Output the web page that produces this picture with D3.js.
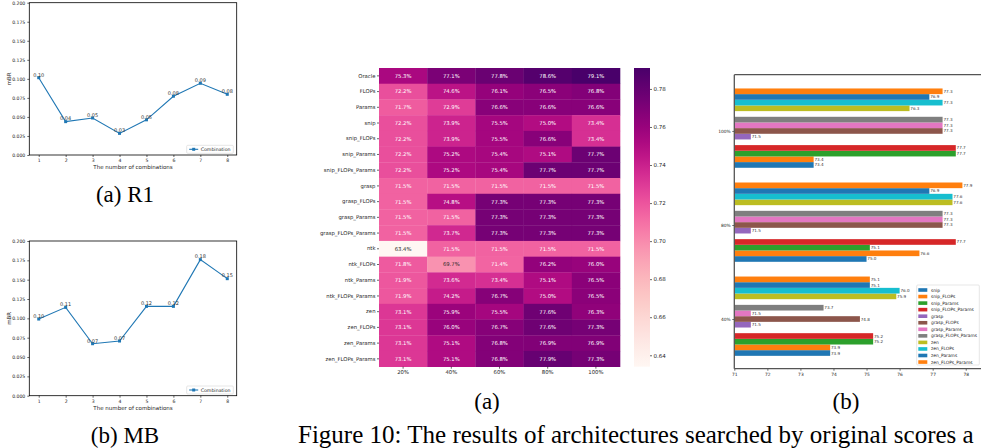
<!DOCTYPE html>
<html>
<head>
<meta charset="utf-8">
<script src="https://cdn.jsdelivr.net/npm/d3@7"></script>
<style>
  html, body { margin: 0; padding: 0; background: #fff; }
  svg { display: block; }
  .mpl { font-family: "DejaVu Sans", sans-serif; }
  .cap { font-family: "Liberation Serif", "Times New Roman", serif; fill: #000; }
</style>
</head>
<body>
<svg id="fig" width="981" height="448"></svg>
<script>
// ---------------- data ----------------
// mBR vs number of combined proxies
const comboX = [1, 2, 3, 4, 5, 6, 7, 8];
const mbrR1 = [0.1015, 0.0438, 0.0486, 0.0284, 0.0462, 0.0772, 0.0942, 0.0797];
const mbrMB = [0.0991, 0.1142, 0.0672, 0.0707, 0.1155, 0.1155, 0.1759, 0.1513];
const mbrTicks = [0, 0.025, 0.05, 0.075, 0.1, 0.125, 0.15, 0.175, 0.2];

// accuracy (%) of searched architectures per proxy and pruning ratio
const heatCols = ["20%", "40%", "60%", "80%", "100%"];
const heatRows = ["Oracle", "FLOPs", "Params", "snip", "snip_FLOPs", "snip_Params",
  "snip_FLOPs_Params", "grasp", "grasp_FLOPs", "grasp_Params", "grasp_FLOPs_Params",
  "ntk", "ntk_FLOPs", "ntk_Params", "ntk_FLOPs_Params", "zen", "zen_FLOPs",
  "zen_Params", "zen_FLOPs_Params"];
const accOracle           = [75.3, 77.1, 77.8, 78.6, 79.1];
const accFLOPs            = [72.2, 74.6, 76.1, 76.5, 76.8];
const accParams           = [71.7, 72.9, 76.6, 76.6, 76.6];
const accSnip             = [72.2, 73.9, 75.5, 75.0, 73.4];
const accSnipFLOPs        = [72.2, 73.9, 75.5, 76.6, 73.4];
const accSnipParams       = [72.2, 75.2, 75.4, 75.1, 77.7];
const accSnipFLOPsParams  = [72.2, 75.2, 75.4, 77.7, 77.7];
const accGrasp            = [71.5, 71.5, 71.5, 71.5, 71.5];
const accGraspFLOPs       = [71.5, 74.8, 77.3, 77.3, 77.3];
const accGraspParams      = [71.5, 71.5, 77.3, 77.3, 77.3];
const accGraspFLOPsParams = [71.5, 73.7, 77.3, 77.3, 77.3];
const accNtk              = [63.4, 71.5, 71.5, 71.5, 71.5];
const accNtkFLOPs         = [71.8, 69.7, 71.4, 76.2, 76.0];
const accNtkParams        = [71.9, 73.6, 73.4, 75.1, 76.5];
const accNtkFLOPsParams   = [71.9, 74.2, 76.7, 75.0, 76.5];
const accZen              = [73.1, 75.9, 75.5, 77.6, 76.3];
const accZenFLOPs         = [73.1, 76.0, 76.7, 77.6, 77.3];
const accZenParams        = [73.1, 75.1, 76.8, 76.9, 76.9];
const accZenFLOPsParams   = [73.1, 75.1, 76.8, 77.9, 77.3];
const heatValues = [accOracle, accFLOPs, accParams, accSnip, accSnipFLOPs, accSnipParams,
  accSnipFLOPsParams, accGrasp, accGraspFLOPs, accGraspParams, accGraspFLOPsParams,
  accNtk, accNtkFLOPs, accNtkParams, accNtkFLOPsParams, accZen, accZenFLOPs,
  accZenParams, accZenFLOPsParams];
const colorbarTicks = [0.64, 0.66, 0.68, 0.70, 0.72, 0.74, 0.76, 0.78];

// grouped bars: proxies at three ratios (bottom group first)
const barGroups = ["40%", "80%", "100%"];
const barSeries = ["snip", "snip_FLOPs", "snip_Params", "snip_FLOPs_Params",
  "grasp", "grasp_FLOPs", "grasp_Params", "grasp_FLOPs_Params",
  "zen", "zen_FLOPs", "zen_Params", "zen_FLOPs_Params"];
const barColors = ["#1f77b4", "#ff7f0e", "#2ca02c", "#d62728", "#9467bd", "#8c564b",
  "#e377c2", "#7f7f7f", "#bcbd22", "#17becf", "#1f77b4", "#ff7f0e"];
const barTicks = [71, 72, 73, 74, 75, 76, 77, 78];

// ---------------- helpers ----------------
const svg = d3.select("#fig");
const TXT = "#262626";

function styleAxis(g, size) {
  g.selectAll("path.domain").remove();
  g.selectAll(".tick line").attr("stroke", "#000").attr("stroke-width", 0.6);
  g.selectAll(".tick text").attr("class", "mpl").style("font-size", size + "px").attr("fill", TXT);
}

// ---------------- line charts ----------------
function lineChart(values, top, bottom, xLabel) {
  const left = 29.3, right = 236.7;
  const x = d3.scaleLinear().domain([0.65, 8.35]).range([left, right]);
  const y = d3.scaleLinear().domain([0, 0.2]).range([bottom, top]);
  const g = svg.append("g");

  g.append("g").attr("transform", `translate(0,${bottom})`)
    .call(d3.axisBottom(x).tickValues(comboX).tickFormat(d3.format("d")).tickSize(2).tickPadding(2))
    .call(a => styleAxis(a, 4.6));
  g.append("g").attr("transform", `translate(${left},0)`)
    .call(d3.axisLeft(y).tickValues(mbrTicks).tickFormat(d3.format(".3f")).tickSize(2).tickPadding(2))
    .call(a => styleAxis(a, 4.6));

  g.append("rect").attr("x", left).attr("y", top).attr("width", right - left).attr("height", bottom - top)
    .attr("fill", "none").attr("stroke", "#000").attr("stroke-width", 0.8);

  const line = d3.line().x((d, i) => x(comboX[i])).y(d => y(d));
  g.append("path").datum(values).attr("d", line)
    .attr("fill", "none").attr("stroke", "#1f77b4").attr("stroke-width", 1.1);
  const sym = d3.symbol().type(d3.symbolSquare).size(9);
  g.selectAll("path.mk").data(values).join("path").attr("class", "mk")
    .attr("d", sym).attr("transform", (d, i) => `translate(${x(comboX[i])},${y(d)})`)
    .attr("fill", "#1f77b4");
  g.selectAll("text.vl").data(values).join("text").attr("class", "mpl vl")
    .attr("x", (d, i) => x(comboX[i])).attr("y", d => y(d) - 1.2)
    .attr("text-anchor", "middle").style("font-size", "5px").attr("fill", "#333")
    .text(d => d3.format(".2f")(d));

  g.append("text").attr("class", "mpl").attr("x", (left + right) / 2).attr("y", bottom + 14)
    .attr("text-anchor", "middle").style("font-size", "5.5px").attr("fill", TXT).text(xLabel);
  g.append("text").attr("class", "mpl")
    .attr("transform", `translate(10.5,${(top + bottom) / 2}) rotate(-90)`)
    .attr("text-anchor", "middle").style("font-size", "5.5px").attr("fill", TXT).text("mBR");

  // legend
  const lx = 186.7, ly = bottom - 9.7;
  g.append("rect").attr("x", lx).attr("y", ly).attr("width", 46.6).attr("height", 8)
    .attr("rx", 1).attr("fill", "#fff").attr("stroke", "#ccc").attr("stroke-width", 0.5);
  g.append("line").attr("x1", lx + 2.5).attr("x2", lx + 11.5).attr("y1", ly + 4).attr("y2", ly + 4)
    .attr("stroke", "#1f77b4").attr("stroke-width", 1.1);
  g.append("path").attr("d", sym).attr("transform", `translate(${lx + 7},${ly + 4})`).attr("fill", "#1f77b4");
  g.append("text").attr("class", "mpl").attr("x", lx + 14).attr("y", ly + 5.7)
    .style("font-size", "4.7px").attr("fill", TXT).text("Combination");
}

lineChart(mbrR1, 2.7, 155, "The number of combinations");
lineChart(mbrMB, 241, 395.7, "The number of combinations");

// ---------------- heatmap ----------------
(function heatmap() {
  const left = 379, right = 620, top = 68, bottom = 366.7;
  const x = d3.scaleBand().domain(heatCols).range([left, right]);
  const y = d3.scaleBand().domain(heatRows).range([top, bottom]);
  const all = heatValues.flat().map(v => v / 100);
  const vmin = d3.min(all), vmax = d3.max(all);
  const color = d3.scaleSequential(d3.interpolateRdPu).domain([vmin, vmax]);

  function lum(c) {
    const rgb = d3.rgb(c);
    const f = v => { v /= 255; return v <= 0.03928 ? v / 12.92 : Math.pow((v + 0.055) / 1.055, 2.4); };
    return 0.2126 * f(rgb.r) + 0.7152 * f(rgb.g) + 0.0722 * f(rgb.b);
  }

  const g = svg.append("g");
  const cells = [];
  heatValues.forEach((row, ri) => row.forEach((v, ci) =>
    cells.push({ row: heatRows[ri], col: heatCols[ci], v: v / 100 })));

  g.selectAll("rect.cell").data(cells).join("rect").attr("class", "cell")
    .attr("x", d => x(d.col)).attr("y", d => y(d.row))
    .attr("width", x.bandwidth() + 0.3).attr("height", y.bandwidth() + 0.3)
    .attr("fill", d => color(d.v));
  g.selectAll("text.ann").data(cells).join("text").attr("class", "mpl ann")
    .attr("x", d => x(d.col) + x.bandwidth() / 2).attr("y", d => y(d.row) + y.bandwidth() / 2 + 1.9)
    .attr("text-anchor", "middle").style("font-size", "5.3px")
    .attr("fill", d => lum(color(d.v)) > 0.408 ? TXT : "#fff")
    .text(d => d3.format(".1%")(d.v));

  g.append("g").attr("transform", `translate(${left},0)`)
    .call(d3.axisLeft(y).tickSize(2).tickPadding(1.5))
    .call(a => styleAxis(a, 5.3));
  g.append("g").attr("transform", `translate(0,${bottom})`)
    .call(d3.axisBottom(x).tickSize(2).tickPadding(1.5))
    .call(a => styleAxis(a, 5.3));

  // colorbar
  const cbL = 634, cbR = 650;
  const cy = d3.scaleLinear().domain([vmin, vmax]).range([bottom, top]);
  const defs = svg.append("defs");
  const grad = defs.append("linearGradient").attr("id", "cbgrad")
    .attr("x1", 0).attr("x2", 0).attr("y1", 1).attr("y2", 0);
  d3.range(0, 1.0001, 0.05).forEach(t =>
    grad.append("stop").attr("offset", t).attr("stop-color", d3.interpolateRdPu(t)));
  g.append("rect").attr("x", cbL).attr("y", top).attr("width", cbR - cbL).attr("height", bottom - top)
    .attr("fill", "url(#cbgrad)");
  g.append("g").attr("transform", `translate(${cbR},0)`)
    .call(d3.axisRight(cy).tickValues(colorbarTicks).tickFormat(d3.format(".2f")).tickSize(2).tickPadding(1.5))
    .call(a => styleAxis(a, 5.5));
})();

// ---------------- grouped horizontal bars ----------------
(function bars() {
  const left = 734.3, top = 74.7, bottom = 368.7;
  const groupStep = 16.6;                 // slots between group centres
  const clusterStart = [-6, -1, 4];       // snip / grasp / zen clusters, slot offsets
  const x = d3.scaleLinear().domain([71, 78.6]).range([left, left + 7.6 * 33.06]);
  const y = d3.scaleLinear().domain([-8.77, 2 * groupStep + 9.93]).range([bottom, top]);
  const slotH = y(0) - y(1);

  const data = [];
  barGroups.forEach((grp, gi) => {
    const ci = heatCols.indexOf(grp);
    barSeries.forEach((s, si) => {
      const v = heatValues[heatRows.indexOf(s)][ci];
      const pos = gi * groupStep + clusterStart[Math.floor(si / 4)] + (si % 4);
      data.push({ grp, s, si, v, pos });
    });
  });

  const g = svg.append("g");
  g.selectAll("rect.bar").data(data).join("rect").attr("class", "bar")
    .attr("x", x(71)).attr("y", d => y(d.pos) - slotH / 2)
    .attr("width", d => x(d.v) - x(71)).attr("height", slotH)
    .attr("fill", d => barColors[d.si]);
  g.selectAll("text.bl").data(data).join("text").attr("class", "mpl bl")
    .attr("x", d => x(d.v) + 0.8).attr("y", d => y(d.pos) + 1.5)
    .style("font-size", "4.1px").attr("fill", "#333")
    .text(d => d3.format(".1f")(d.v));

  g.append("g").attr("transform", `translate(0,${bottom})`)
    .call(d3.axisBottom(x).tickValues(barTicks).tickFormat(d3.format("d")).tickSize(2).tickPadding(2))
    .call(a => styleAxis(a, 4.4));
  g.append("g").attr("transform", `translate(${left},0)`)
    .call(d3.axisLeft(y).tickValues(barGroups.map((d, i) => i * groupStep)).tickFormat((d, i) => barGroups[i])
      .tickSize(2).tickPadding(1.5))
    .call(a => styleAxis(a, 4.4));

  // spines
  g.append("line").attr("x1", left).attr("x2", left).attr("y1", top).attr("y2", bottom)
    .attr("stroke", "#555").attr("stroke-width", 1.3);
  g.append("line").attr("x1", left).attr("x2", 981).attr("y1", top).attr("y2", top)
    .attr("stroke", "#555").attr("stroke-width", 1.3);
  g.append("line").attr("x1", left).attr("x2", 981).attr("y1", bottom).attr("y2", bottom)
    .attr("stroke", "#555").attr("stroke-width", 1.3);

  // legend
  const lx = 916.7, ly = 285, step = 6.55;
  g.append("rect").attr("x", lx).attr("y", ly).attr("width", 62.6).attr("height", 80)
    .attr("rx", 1).attr("fill", "#fff").attr("fill-opacity", 0.85).attr("stroke", "#ccc").attr("stroke-width", 0.5);
  const it = g.selectAll("g.li").data(barSeries).join("g").attr("class", "li")
    .attr("transform", (d, i) => `translate(${lx},${ly + 5 + i * step})`);
  it.append("rect").attr("x", 1.6).attr("y", -1.8).attr("width", 9).attr("height", 3.6)
    .attr("fill", (d, i) => barColors[i]);
  it.append("text").attr("class", "mpl").attr("x", 14.3).attr("y", 1.5)
    .style("font-size", "4.4px").attr("fill", TXT).text(d => d);
})();

// ---------------- captions ----------------
const caps = [
  { t: "(a) R1", x: 125, y: 202, a: "middle", s: 23 },
  { t: "(b) MB", x: 125, y: 443, a: "middle", s: 23 },
  { t: "(a)", x: 487, y: 409, a: "middle", s: 23 },
  { t: "(b)", x: 846, y: 409, a: "middle", s: 23 },
  { t: "Figure 10: The results of architectures searched by original scores a", x: 298, y: 443, a: "start", s: 25 }
];
svg.selectAll("text.cap").data(caps).join("text").attr("class", "cap")
  .attr("x", d => d.x).attr("y", d => d.y).attr("text-anchor", d => d.a)
  .style("font-size", d => d.s + "px").text(d => d.t);
</script>
</body>
</html>
